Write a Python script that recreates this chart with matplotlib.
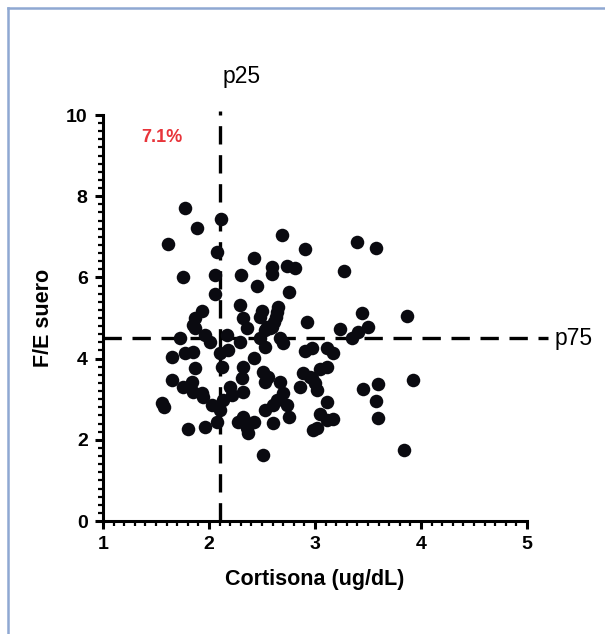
import matplotlib
matplotlib.use("Agg")
import matplotlib.pyplot as plt
from matplotlib.ticker import MultipleLocator
from matplotlib.lines import Line2D

plt.rcParams["font.family"] = ["Liberation Sans", "DejaVu Sans"]

# ==============================
# DATA
# ==============================
cortisona = [
    1.61, 1.77, 1.89, 2.08, 2.11, 1.75, 2.06, 2.06, 1.93, 1.87,
    1.85, 2.30, 2.69, 2.91, 2.42, 2.59, 2.59, 2.74, 2.81, 2.45,
    2.75, 2.92, 2.50, 2.48, 2.65, 2.64, 2.63, 2.61, 2.59, 2.29,
    2.32, 2.55, 3.40, 3.58, 3.27, 3.44, 3.87, 3.24, 3.41, 3.50,
    3.35, 2.36, 2.53, 2.58, 2.48, 2.67, 2.70, 2.29, 2.53, 2.91,
    2.97, 3.11, 3.17, 2.42, 2.32, 2.51, 2.56, 2.53, 2.67, 2.31,
    2.89, 2.95, 3.05, 3.11, 3.00, 3.02, 2.86, 2.70, 2.32, 2.64,
    2.60, 2.74, 2.53, 2.75, 2.32, 2.42, 2.36, 2.37, 2.60, 3.11,
    3.05, 3.11, 3.17, 2.98, 3.02, 2.51, 3.92, 3.45, 3.59, 3.58,
    3.59, 3.84, 1.73, 1.87, 1.96, 2.01, 2.17, 1.65, 1.77, 1.85,
    2.10, 2.18, 1.87, 2.12, 1.65, 1.75, 1.84, 1.85, 1.93, 1.94,
    2.03, 2.10, 2.13, 2.20, 2.22, 1.56, 1.58, 1.80, 1.96, 2.08,
    2.27, 2.97,
]
fe_suero = [
    6.82, 7.71, 7.22, 6.63, 7.45, 6.01, 6.06, 5.59, 5.17, 5.00,
    4.83, 6.06, 7.04, 6.70, 6.48, 6.26, 6.08, 6.28, 6.23, 5.79,
    5.64, 4.90, 5.17, 5.02, 5.27, 5.15, 5.02, 4.90, 4.78, 5.32,
    5.00, 4.78, 6.87, 6.72, 6.16, 5.12, 5.05, 4.72, 4.66, 4.78,
    4.51, 4.75, 4.70, 4.75, 4.51, 4.51, 4.38, 4.41, 4.29, 4.19,
    4.26, 4.26, 4.14, 4.01, 3.79, 3.67, 3.55, 3.42, 3.42, 3.52,
    3.65, 3.55, 3.74, 3.79, 3.40, 3.23, 3.30, 3.15, 3.18, 2.98,
    2.86, 2.86, 2.73, 2.56, 2.56, 2.44, 2.29, 2.17, 2.41, 2.93,
    2.64, 2.49, 2.51, 2.24, 2.29, 1.63, 3.47, 3.25, 3.37, 2.96,
    2.54, 1.75, 4.51, 4.75, 4.58, 4.41, 4.58, 4.04, 4.14, 4.16,
    4.14, 4.21, 3.77, 3.79, 3.47, 3.30, 3.42, 3.18, 3.15, 3.05,
    2.86, 2.73, 2.98, 3.30, 3.10, 2.91, 2.80, 2.27, 2.32, 2.44,
    2.44, 3.52,
]

p25 = 2.1
p75 = 4.5
pct_label = "7.1%"

# ==============================
# FIGURE
# ==============================
fig = plt.figure(figsize=(6.05, 6.34), dpi=100)

# light blue frame (top and left edges)
frame_c = "#8fa8d2"
fig.add_artist(Line2D([8 / 605, 8 / 605], [0, 1 - 8 / 634], color=frame_c, lw=1.8))
fig.add_artist(Line2D([8 / 605, 1], [1 - 8 / 634, 1 - 8 / 634], color=frame_c, lw=1.8))

ax = fig.add_axes([103 / 605, 113 / 634, 424 / 605, 406 / 634])

ax.scatter(cortisona, fe_suero, s=95, color="#0a0a10", zorder=3, linewidths=0)

ax.plot([1, 5.2], [p75, p75], color="black", lw=2.4, dashes=(5.5, 3.2),
        clip_on=False, zorder=2)
ax.plot([p25, p25], [0, 10.1], color="black", lw=2.4, dashes=(5.5, 3.2),
        clip_on=False, zorder=2)

ax.text(p25 + 0.03, 10.95, "p25", fontsize=16.5, ha="left", va="center")
ax.text(5.26, p75, "p75", fontsize=16.5, ha="left", va="center")
ax.text(1.36, 9.45, pct_label, fontsize=13, fontweight="bold",
        color="#e8343a", ha="left", va="center")

ax.set_xlim(1, 5)
ax.set_ylim(0, 10)
ax.xaxis.set_major_locator(MultipleLocator(1))
ax.xaxis.set_minor_locator(MultipleLocator(0.1))
ax.yaxis.set_major_locator(MultipleLocator(2))
ax.yaxis.set_minor_locator(MultipleLocator(0.2))

for s in ["top", "right"]:
    ax.spines[s].set_visible(False)
for s in ["left", "bottom"]:
    ax.spines[s].set_linewidth(2.2)

ax.tick_params(which="major", direction="out", length=6, width=2.2,
               labelsize=14, pad=5)
ax.tick_params(which="minor", direction="out", length=3.5, width=1.6)
for lab in ax.get_xticklabels() + ax.get_yticklabels():
    lab.set_fontweight("bold")

ax.set_xlabel("Cortisona (ug/dL)", fontsize=15.5, fontweight="bold", labelpad=11)
ax.set_ylabel("F/E suero", fontsize=15.5, fontweight="bold", labelpad=9)

fig.savefig("out.png", dpi=100)
